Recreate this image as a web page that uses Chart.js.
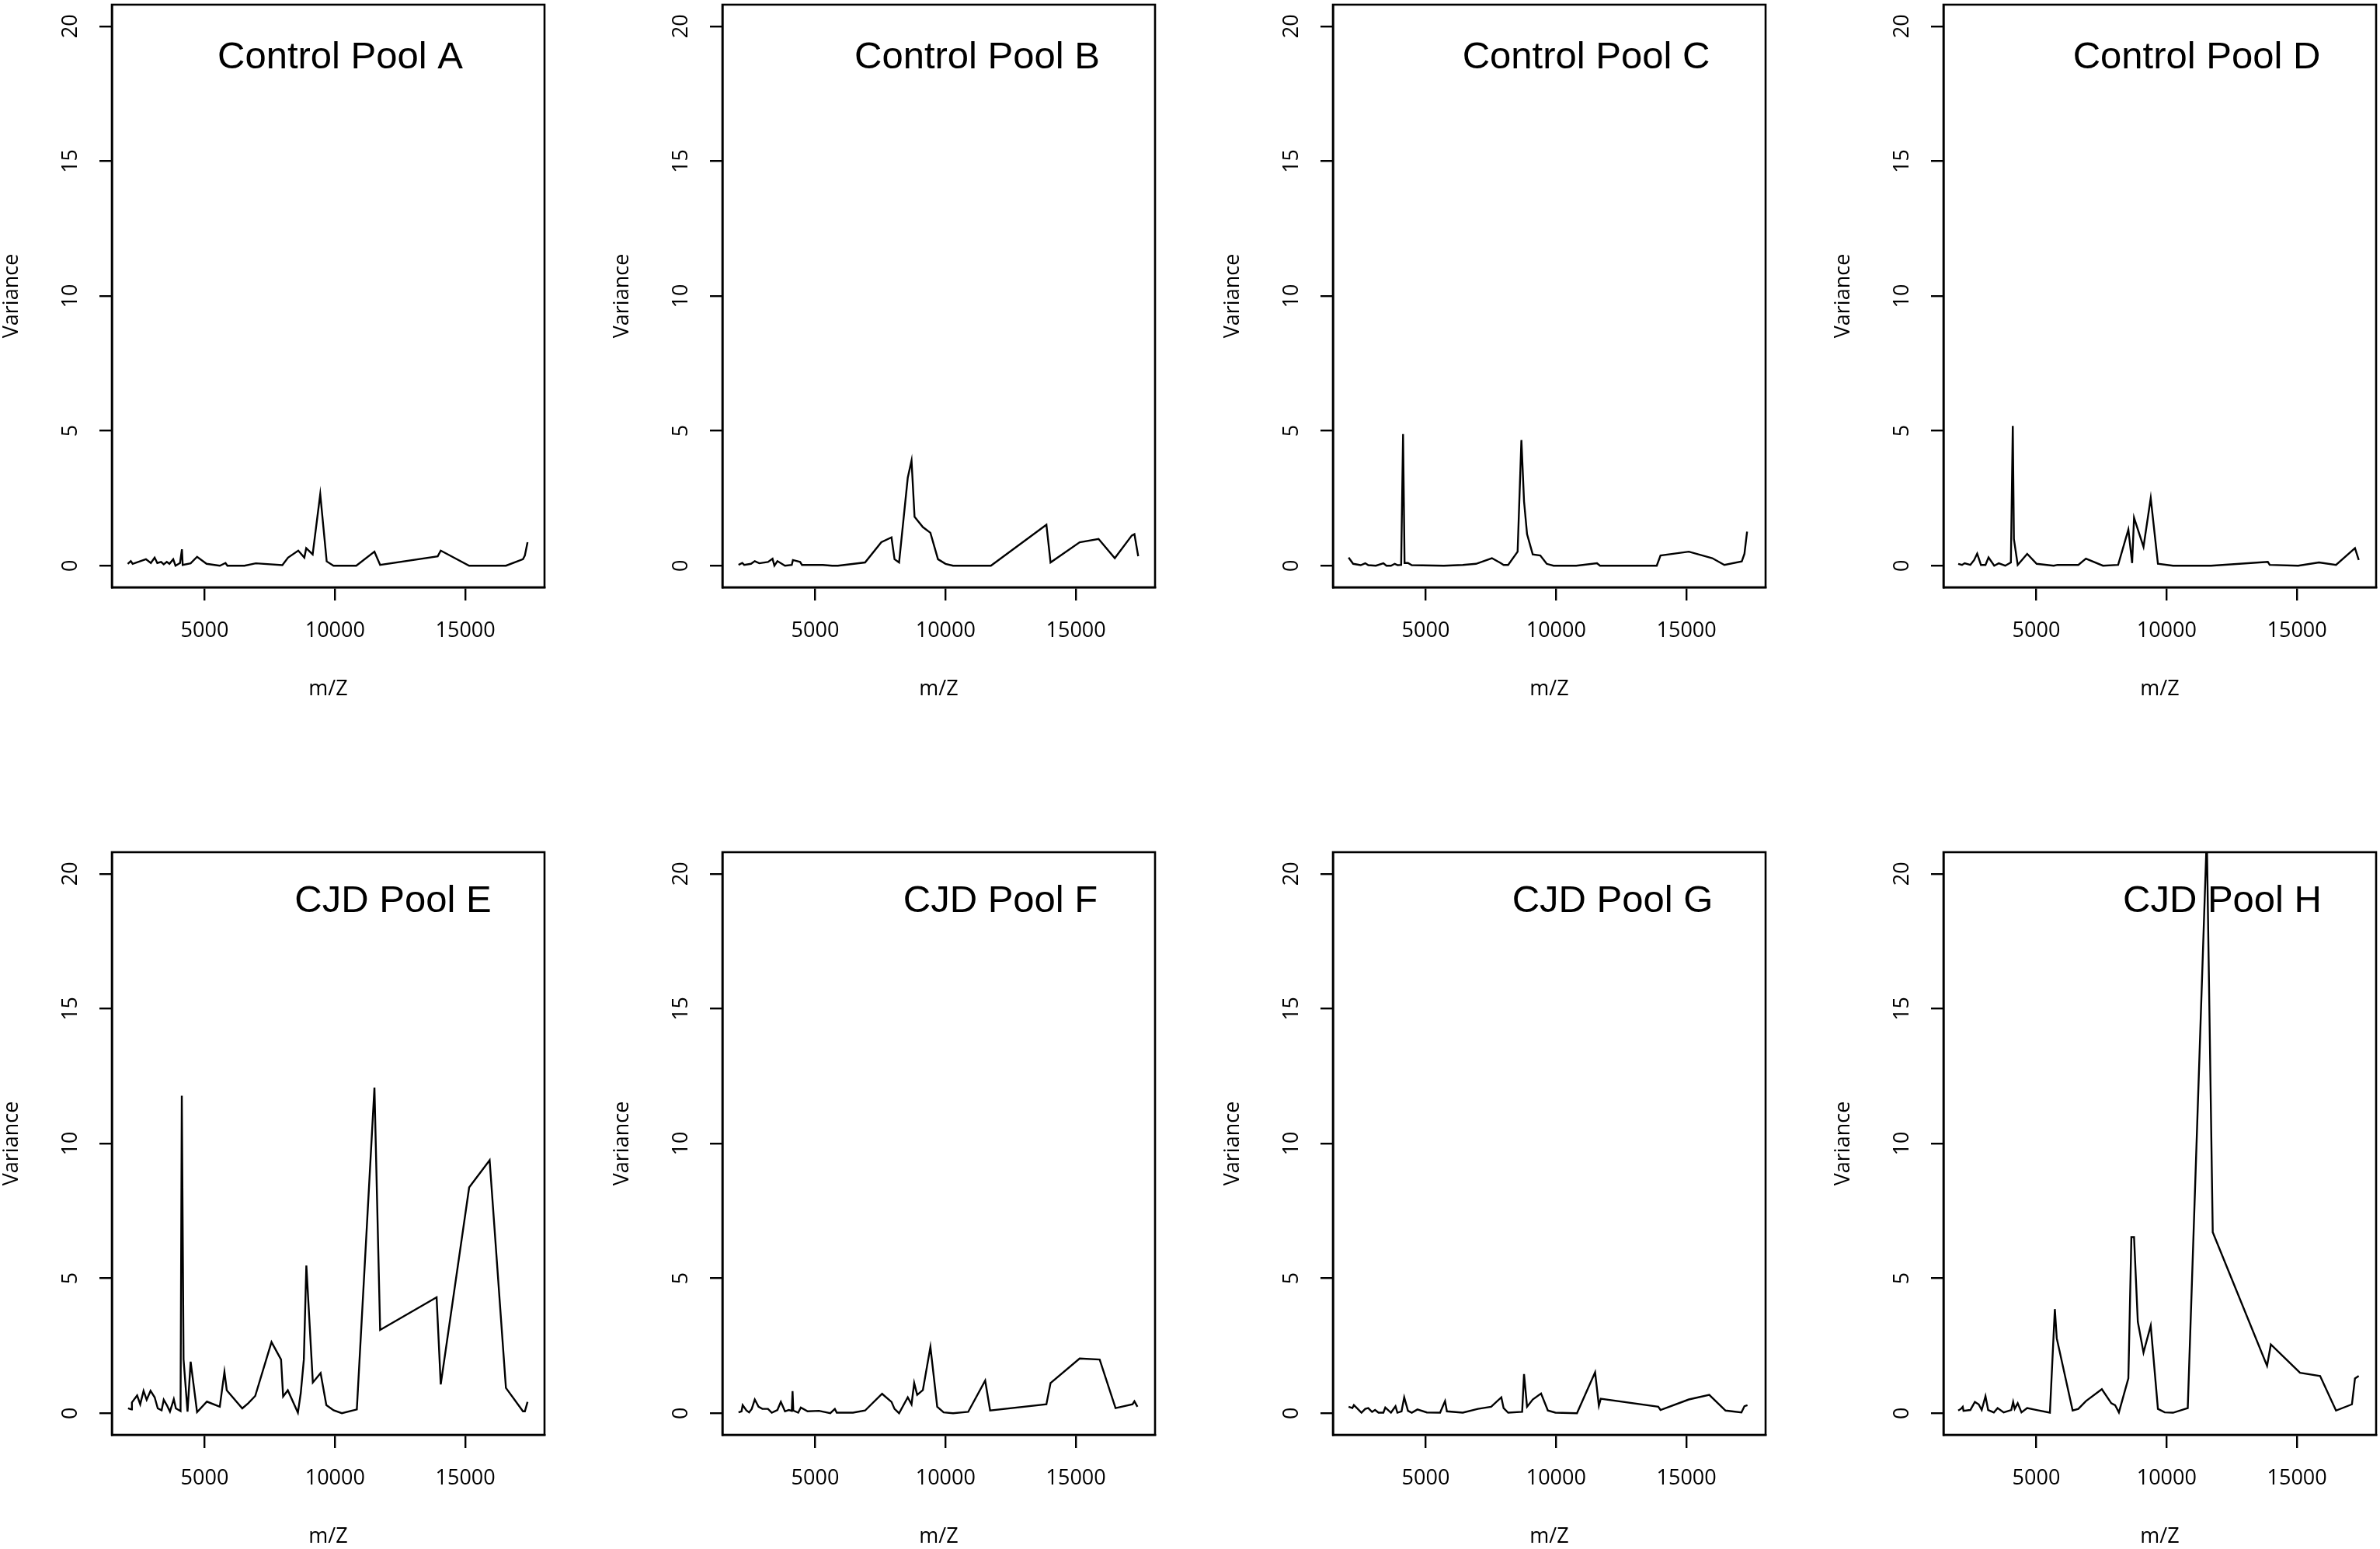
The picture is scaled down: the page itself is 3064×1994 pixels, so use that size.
<!DOCTYPE html>
<html>
<head>
<meta charset="utf-8">
<script src="https://cdn.jsdelivr.net/npm/chart.js@4.4.1/dist/chart.umd.min.js"></script>
<style>
  html, body { margin: 0; padding: 0; background: #fff; }
  #page { position: relative; width: 3064px; height: 1994px; overflow: hidden; background: #fff; }
  #page canvas { position: absolute; }
</style>
</head>
<body>
<div id="page"></div>
<script>
// values: m/Z positions and variance per pool
const poolA_mz = [2049, 2166, 2238, 2747, 2936, 3081, 3183, 3329, 3430, 3547, 3648, 3794, 3881, 4055, 4128, 4157, 4462, 4709, 5073, 5581, 5799, 5872, 6526, 6962, 7980, 8198, 8590, 8823, 8895, 9142, 9433, 9680, 9942, 10814, 11512, 11730, 13939, 14055, 15145, 16555, 17209, 17282, 17384];
const poolA_var = [0.07, 0.17, 0.07, 0.24, 0.1, 0.3, 0.1, 0.14, 0.05, 0.14, 0.07, 0.24, 0, 0.1, 0.61, 0.03, 0.09, 0.33, 0.07, 0, 0.1, 0, 0, 0.09, 0.02, 0.3, 0.56, 0.3, 0.65, 0.42, 2.65, 0.16, 0, 0, 0.52, 0.03, 0.35, 0.56, 0, 0, 0.24, 0.38, 0.87];

const poolB_mz = [2059, 2203, 2276, 2537, 2682, 2856, 3189, 3363, 3435, 3551, 3841, 4102, 4145, 4420, 4493, 5290, 5652, 5869, 6913, 7536, 7927, 8043, 8217, 8550, 8695, 8811, 9130, 9419, 9709, 9999, 10289, 11738, 13868, 14027, 15143, 15868, 16491, 17143, 17244, 17389];
const poolB_var = [0.03, 0.1, 0.03, 0.07, 0.17, 0.09, 0.14, 0.26, 0, 0.17, 0, 0.03, 0.21, 0.14, 0.03, 0.03, 0, 0, 0.12, 0.87, 1.05, 0.24, 0.12, 3.26, 3.9, 1.81, 1.43, 1.22, 0.24, 0.07, 0, 0, 1.52, 0.12, 0.87, 0.99, 0.28, 1.12, 1.17, 0.35];

const poolC_mz = [2042, 2216, 2506, 2680, 2796, 3086, 3376, 3492, 3666, 3811, 3927, 4057, 4130, 4188, 4319, 4464, 5696, 6421, 6929, 7538, 7871, 7987, 8161, 8524, 8669, 8770, 8886, 9104, 9394, 9640, 9901, 10771, 11569, 11685, 13860, 14005, 15092, 15991, 16455, 17122, 17224, 17325];
const poolC_var = [0.3, 0.07, 0.02, 0.09, 0.02, 0, 0.09, 0, 0, 0.07, 0.02, 0.03, 4.88, 0.1, 0.1, 0.02, 0, 0.03, 0.07, 0.28, 0.1, 0.03, 0.03, 0.52, 4.66, 2.39, 1.17, 0.42, 0.38, 0.07, 0, 0, 0.09, 0, 0, 0.38, 0.52, 0.28, 0.03, 0.16, 0.44, 1.26];

const poolD_mz = [2006, 2151, 2253, 2471, 2616, 2733, 2878, 3052, 3169, 3387, 3561, 3808, 4026, 4099, 4142, 4288, 4651, 5015, 5669, 5814, 6613, 6904, 7558, 8140, 8532, 8677, 8750, 9113, 9390, 9666, 10247, 11701, 13881, 13954, 15044, 15843, 16497, 17224, 17369];
const poolD_var = [0.07, 0.03, 0.09, 0.03, 0.21, 0.45, 0.03, 0.03, 0.31, 0, 0.09, 0, 0.12, 5.18, 0.99, 0.03, 0.44, 0.07, 0, 0.03, 0.03, 0.26, 0, 0.03, 1.34, 0.1, 1.78, 0.7, 2.51, 0.07, 0, 0, 0.14, 0.03, 0, 0.12, 0.03, 0.65, 0.21];

const poolE_mz = [2061, 2189, 2210, 2409, 2528, 2656, 2775, 2924, 3082, 3201, 3349, 3430, 3549, 3668, 3816, 3896, 4075, 4123, 4190, 4343, 4462, 4709, 5086, 5580, 5758, 5848, 6443, 6672, 6939, 7564, 7930, 8010, 8189, 8576, 8685, 8804, 8900, 9149, 9447, 9667, 9944, 10262, 10836, 11512, 11730, 13896, 14055, 15145, 15930, 16555, 17209, 17282, 17384];
const poolE_var = [0.18, 0.14, 0.4, 0.66, 0.33, 0.83, 0.5, 0.83, 0.59, 0.18, 0.11, 0.5, 0.3, 0.06, 0.52, 0.18, 0.08, 11.77, 2.0, 0.06, 1.91, 0.04, 0.43, 0.24, 1.53, 0.85, 0.18, 0.37, 0.64, 2.64, 1.99, 0.62, 0.85, 0.02, 0.74, 1.99, 5.48, 1.14, 1.49, 0.3, 0.11, 0, 0.14, 12.07, 3.09, 4.3, 1.07, 8.37, 9.38, 0.94, 0.07, 0.07, 0.42];

const poolF_mz = [2059, 2174, 2218, 2363, 2465, 2566, 2682, 2827, 2972, 3189, 3334, 3551, 3682, 3841, 3986, 4102, 4131, 4160, 4348, 4449, 4710, 5145, 5580, 5753, 5826, 6449, 6913, 7565, 7927, 8043, 8217, 8550, 8695, 8797, 8912, 9130, 9419, 9680, 9927, 10289, 10868, 11520, 11709, 13868, 14027, 15143, 15911, 16520, 17172, 17244, 17360];
const poolF_var = [0.03, 0.07, 0.3, 0.1, 0.03, 0.16, 0.51, 0.24, 0.16, 0.16, 0.02, 0.12, 0.42, 0.07, 0.12, 0.09, 0.82, 0.1, 0.02, 0.21, 0.07, 0.09, 0, 0.16, 0.02, 0.02, 0.1, 0.72, 0.42, 0.16, 0, 0.59, 0.33, 1.12, 0.68, 0.86, 2.46, 0.24, 0.03, 0, 0.05, 1.21, 0.1, 0.33, 1.12, 2.03, 1.99, 0.19, 0.33, 0.44, 0.24];

const poolG_mz = [2042, 2187, 2245, 2361, 2535, 2680, 2796, 2941, 3057, 3188, 3376, 3449, 3666, 3840, 3913, 4072, 4174, 4319, 4464, 4681, 5044, 5551, 5740, 5812, 6421, 7001, 7509, 7900, 7987, 8161, 8698, 8770, 8886, 9104, 9423, 9684, 9974, 10800, 11496, 11641, 11714, 13918, 14005, 15092, 15875, 16499, 17108, 17224, 17340];
const poolG_var = [0.24, 0.19, 0.3, 0.19, 0.02, 0.16, 0.19, 0.05, 0.12, 0.02, 0.02, 0.21, 0.02, 0.26, 0.02, 0.07, 0.59, 0.09, 0.02, 0.14, 0.03, 0.02, 0.45, 0.07, 0.02, 0.16, 0.24, 0.59, 0.19, 0.02, 0.05, 1.45, 0.24, 0.51, 0.73, 0.1, 0.02, 0, 1.52, 0.28, 0.54, 0.24, 0.12, 0.51, 0.68, 0.1, 0.03, 0.26, 0.3];

const poolH_mz = [2006, 2108, 2180, 2209, 2471, 2645, 2791, 2907, 3052, 3154, 3372, 3517, 3750, 4041, 4113, 4172, 4288, 4433, 4651, 5015, 5523, 5712, 5785, 6395, 6613, 6904, 7515, 7878, 8023, 8169, 8532, 8648, 8750, 8895, 9113, 9390, 9666, 9927, 10247, 10810, 11540, 11769, 13852, 13997, 15116, 15887, 16497, 17108, 17224, 17369];
const poolH_var = [0.1, 0.16, 0.24, 0.09, 0.12, 0.42, 0.33, 0.12, 0.63, 0.12, 0.03, 0.19, 0.03, 0.12, 0.42, 0.16, 0.37, 0.03, 0.19, 0.12, 0.02, 3.86, 2.78, 0.1, 0.16, 0.45, 0.89, 0.37, 0.3, 0.03, 1.29, 6.53, 6.53, 3.39, 2.25, 3.25, 0.16, 0.03, 0.02, 0.19, 21.4, 6.71, 1.76, 2.55, 1.5, 1.38, 0.1, 0.33, 1.29, 1.38];

const titles = ["Control Pool A", "Control Pool B", "Control Pool C", "Control Pool D",
                "CJD Pool E", "CJD Pool F", "CJD Pool G", "CJD Pool H"];
const xTicks = [5000, 10000, 15000];
const yTicks = [0, 5, 10, 15, 20];

const pools = [
  [poolA_mz, poolA_var], [poolB_mz, poolB_var], [poolC_mz, poolC_var], [poolD_mz, poolD_var],
  [poolE_mz, poolE_var], [poolF_mz, poolF_var], [poolG_mz, poolG_var], [poolH_mz, poolH_var]
];

// page layout (pixels)
const boxLeft = [144, 930, 1716, 2502];
const boxTop = [6, 1097];
const boxW = 557, boxH = 750;
const ML = 145, MR = 5, MT = 6, MB = 155;
const titleDX = [294, 328, 326, 326, 362, 358, 360, 359];
const titleBase = [82, 82, 82, 82, 77, 77, 77, 77];

const axisFont = { family: "'Open Sans', sans-serif", size: 27 };

// box round the plot, rotated y labels and panel title
const panelDecor = {
  id: "panelDecor",
  afterDraw(chart, args, opts) {
    const { ctx, chartArea: a } = chart;
    const y = chart.scales.y;
    ctx.save();
    ctx.strokeStyle = "#000";
    ctx.lineWidth = 2.6;
    ctx.strokeRect(a.left, a.top, a.right - a.left, a.bottom - a.top);

    ctx.fillStyle = "#000";
    ctx.font = "27px 'Open Sans', sans-serif";
    ctx.textAlign = "center";
    ctx.textBaseline = "middle";
    y.ticks.forEach((t) => {
      const py = y.getPixelForValue(t.value);
      ctx.save();
      ctx.translate(a.left - 53, py);
      ctx.rotate(-Math.PI / 2);
      ctx.fillText(String(t.value), 0, 0);
      ctx.restore();
    });

    ctx.font = "49px 'Liberation Sans', Arial, sans-serif";
    ctx.textBaseline = "alphabetic";
    ctx.fillText(opts.title, a.left + opts.dx, a.top + opts.base);
    ctx.restore();
  },
};

const page = document.getElementById("page");

pools.forEach(([mz, variance], i) => {
  const col = i % 4, row = Math.floor(i / 4);
  const canvas = document.createElement("canvas");
  canvas.width = ML + boxW + MR;
  canvas.height = MT + boxH + MB;
  canvas.style.left = (boxLeft[col] - ML) + "px";
  canvas.style.top = (boxTop[row] - MT) + "px";
  canvas.style.width = canvas.width + "px";
  canvas.style.height = canvas.height + "px";
  page.appendChild(canvas);

  new Chart(canvas.getContext("2d"), {
    type: "line",
    data: {
      datasets: [{
        data: mz.map((x, k) => ({ x: x, y: variance[k] })),
        borderColor: "#000",
        borderWidth: 2.4,
        pointRadius: 0,
        tension: 0,
        fill: false,
      }],
    },
    options: {
      responsive: false,
      animation: false,
      layout: { padding: { left: 0, top: MT, right: MR, bottom: 0 } },
      plugins: {
        legend: { display: false },
        tooltip: { enabled: false },
        panelDecor: { title: titles[i], dx: titleDX[i], base: titleBase[i] },
      },
      scales: {
        x: {
          type: "linear",
          min: 1440,
          max: 18035,
          afterBuildTicks: (s) => { s.ticks = xTicks.map((v) => ({ value: v })); },
          afterFit: (s) => {
            s.height = MB;
            s.paddingLeft = s.paddingRight = s.paddingTop = s.paddingBottom = 0;
          },
          grid: { display: true, drawOnChartArea: false, drawTicks: true, tickLength: 17, color: "#000", lineWidth: 2.4 },
          border: { display: true, color: "#000", width: 2.6 },
          ticks: { color: "#000", font: axisFont, padding: 23, maxRotation: 0, callback: (v) => String(v) },
          title: { display: true, text: "m/Z", color: "#000", font: axisFont, padding: { top: 0, bottom: 7 } },
        },
        y: {
          type: "linear",
          min: -0.8,
          max: 20.8,
          afterBuildTicks: (s) => { s.ticks = yTicks.map((v) => ({ value: v })); },
          afterFit: (s) => {
            s.width = ML;
            s.paddingLeft = s.paddingRight = s.paddingTop = s.paddingBottom = 0;
          },
          grid: { display: true, drawOnChartArea: false, drawTicks: true, tickLength: 16, color: "#000", lineWidth: 2.4 },
          border: { display: true, color: "#000", width: 2.6 },
          ticks: { display: false },
          title: { display: true, text: "Variance", color: "#000", font: axisFont, padding: { top: 0, bottom: 0 } },
        },
      },
    },
    plugins: [panelDecor],
  });
});
</script>
</body>
</html>
